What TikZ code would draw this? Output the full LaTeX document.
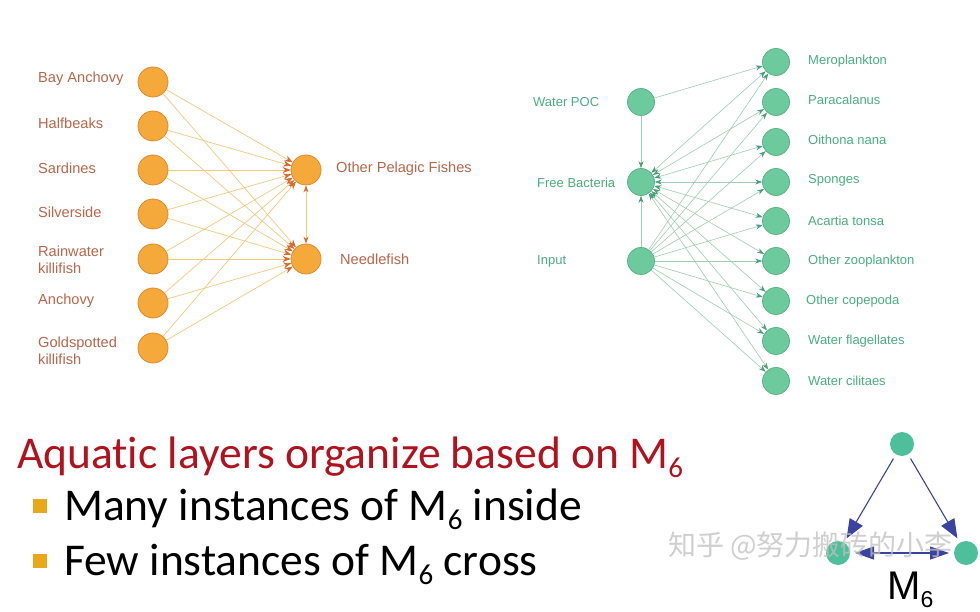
\documentclass[tikz,border=0pt]{standalone}
\usepackage{fontspec}
\setmainfont{Liberation Sans}
\newfontfamily\calibri[Ligatures=NoCommon]{Carlito}
\newfontfamily\cjk{Noto Sans CJK SC}
\usetikzlibrary{arrows.meta}
\definecolor{ofill}{HTML}{F6A93B}
\definecolor{odraw}{HTML}{E08A2A}
\definecolor{oline}{HTML}{F2C97E}
\definecolor{oarrow}{HTML}{D6692F}
\definecolor{otext}{HTML}{B8674A}
\definecolor{gfill}{HTML}{6DCA9C}
\definecolor{gdraw}{HTML}{52B083}
\definecolor{gline}{HTML}{9FCDB7}
\definecolor{garrow}{HTML}{4A9E7A}
\definecolor{gtext}{HTML}{4AAE80}
\definecolor{titlered}{HTML}{B0121E}
\definecolor{bulletgold}{HTML}{E8A81A}
\definecolor{motifnode}{HTML}{4DBF9A}
\definecolor{motifblue}{HTML}{3A44A0}
\newcommand\lowsix{\raisebox{-9pt}{\fontsize{29}{29}\selectfont 6}}
\tikzset{
  onode/.style={circle, fill=ofill, draw=odraw, line width=0.8pt, minimum size=30pt, inner sep=0pt},
  oedge/.style={draw=oline, line width=0.7pt, -{Stealth[length=8pt,width=6pt,color=oarrow]}},
  obidir/.style={draw=oline, line width=0.8pt, {Stealth[length=7pt,width=5pt,color=oarrow]}-{Stealth[length=7pt,width=5pt,color=oarrow]}},
  olabel/.style={text=otext, font=\fontsize{14.6}{17}\selectfont, anchor=west, align=left, inner sep=0pt},
  gnode/.style={circle, fill=gfill, draw=gdraw, line width=0.7pt, minimum size=27pt, inner sep=0pt},
  gedge/.style={draw=gline, line width=0.6pt, -{Stealth[length=7pt,width=5pt,color=garrow]}},
  gbidir/.style={draw=gline, line width=0.6pt, {Stealth[length=7pt,width=5pt,color=garrow]}-{Stealth[length=7pt,width=5pt,color=garrow]}},
  glabel/.style={text=gtext, font=\fontsize{13}{15}\selectfont, anchor=west, inner sep=0pt},
  mnode/.style={circle, fill=motifnode, minimum size=24pt, inner sep=0pt, outer sep=5pt},
  medge/.style={draw=motifblue, line width=1.1pt, -{Triangle[length=19pt,width=15pt]}},
  mbidir/.style={draw=motifblue, line width=1.1pt, {Triangle[length=19pt,width=13pt]}-{Triangle[length=19pt,width=13pt]}},
  bigtext/.style={anchor=base west, inner sep=0pt, font=\calibri\fontsize{45.5}{54}\selectfont},
  bsq/.style={fill=bulletgold, minimum size=14pt, inner sep=0pt},
}
\begin{document}
\begin{tikzpicture}[x=1pt, y=-1pt]
\useasboundingbox (0,0) rectangle (980,612);
\fill[white] (0,0) rectangle (980,612);
% ---------- orange network ----------
\node[onode] (a1) at (153,82) {};
\node[onode] (a2) at (153,126) {};
\node[onode] (a3) at (153,170) {};
\node[onode] (a4) at (153,214) {};
\node[onode] (a5) at (153,259) {};
\node[onode] (a6) at (153,303) {};
\node[onode] (a7) at (153,348) {};
\node[onode] (opf) at (306,170) {};
\node[onode] (nf) at (306,259) {};
\node[olabel] (la1) at (38,79) {Bay Anchovy};
\node[olabel] (la2) at (38,123) {Halfbeaks};
\node[olabel] (la3) at (38,168) {Sardines};
\node[olabel] (la4) at (38,212) {Silverside};
\node[olabel] (la5) at (38,260) {Rainwater\\killifish};
\node[olabel] (la6) at (38,301) {Anchovy};
\node[olabel] (la7) at (38,351) {Goldspotted\\killifish};
\node[olabel] (lopf) at (336,169) {Other Pelagic Fishes};
\node[olabel] (lnf) at (340,259) {Needlefish};
\foreach \i in {1,...,7} {
  \draw[oedge] (a\i) -- (opf);
  \draw[oedge] (a\i) -- (nf);
}
\draw[obidir] (opf) -- (nf);
% ---------- green network ----------
\node[gnode] (poc) at (641,102) {};
\node[gnode] (fb) at (641,182) {};
\node[gnode] (inp) at (641,261) {};
\node[gnode] (r1) at (776,62) {};
\node[gnode] (r2) at (776,102) {};
\node[gnode] (r3) at (776,142) {};
\node[gnode] (r4) at (776,182) {};
\node[gnode] (r5) at (776,221) {};
\node[gnode] (r6) at (776,261) {};
\node[gnode] (r7) at (776,301) {};
\node[gnode] (r8) at (776,341) {};
\node[gnode] (r9) at (776,381) {};
\node[glabel] (lpoc) at (533,102) {Water POC};
\node[glabel] (lfb) at (537,183) {Free Bacteria};
\node[glabel] (linp) at (537,261) {Input};
\node[glabel] (lr1) at (808,61) {Meroplankton};
\node[glabel] (lr2) at (808,100) {Paracalanus};
\node[glabel] (lr3) at (808,140) {Oithona nana};
\node[glabel] (lr4) at (808,180) {Sponges};
\node[glabel] (lr5) at (808,221) {Acartia tonsa};
\node[glabel] (lr6) at (808,261) {Other zooplankton};
\node[glabel] (lr7) at (806,301) {Other copepoda};
\node[glabel] (lr8) at (808,341) {Water flagellates};
\node[glabel] (lr9) at (808,381) {Water cilitaes};
\draw[gedge] (poc) -- (r1);
\draw[gedge] (poc) -- (fb);
\draw[gedge] (inp) -- (fb);
\foreach \i in {1,...,9} {
  \draw[gedge] (inp) -- (r\i);
  \draw[gbidir] (fb) -- (r\i);
}
% ---------- text ----------
\node[bigtext, text=titlered] (title) at (17,468) {Aquatic layers organize based on M\lowsix};
\node[bsq] (s1) at (40,505.5) {};
\node[bsq] (s2) at (40,560.5) {};
\node[bigtext] (b1) at (64,520) {Many instances of M\lowsix{} inside};
\node[bigtext] (b2) at (64,575) {Few instances of M\lowsix{} cross};
% ---------- motif ----------
\node[mnode] (mt) at (902,444) {};
\node[mnode] (ml) at (838,553) {};
\node[mnode] (mr) at (966,553) {};
\draw[medge] (mt) -- (ml);
\draw[medge] (mt) -- (mr);
\draw[mbidir] (ml) -- (mr);
\node[anchor=base west, inner sep=0pt, font=\fontsize{40}{40}\selectfont] (mlab) at (887,599) {M\raisebox{-8pt}{\fontsize{23}{23}\selectfont 6}};
% ---------- watermark ----------
\node[anchor=west, inner sep=0pt, text=gray!50, opacity=0.75, font=\cjk\fontsize{28}{28}\selectfont] (wm) at (668,546) {知乎 @努力搬砖的小李};
\end{tikzpicture}
\end{document}
